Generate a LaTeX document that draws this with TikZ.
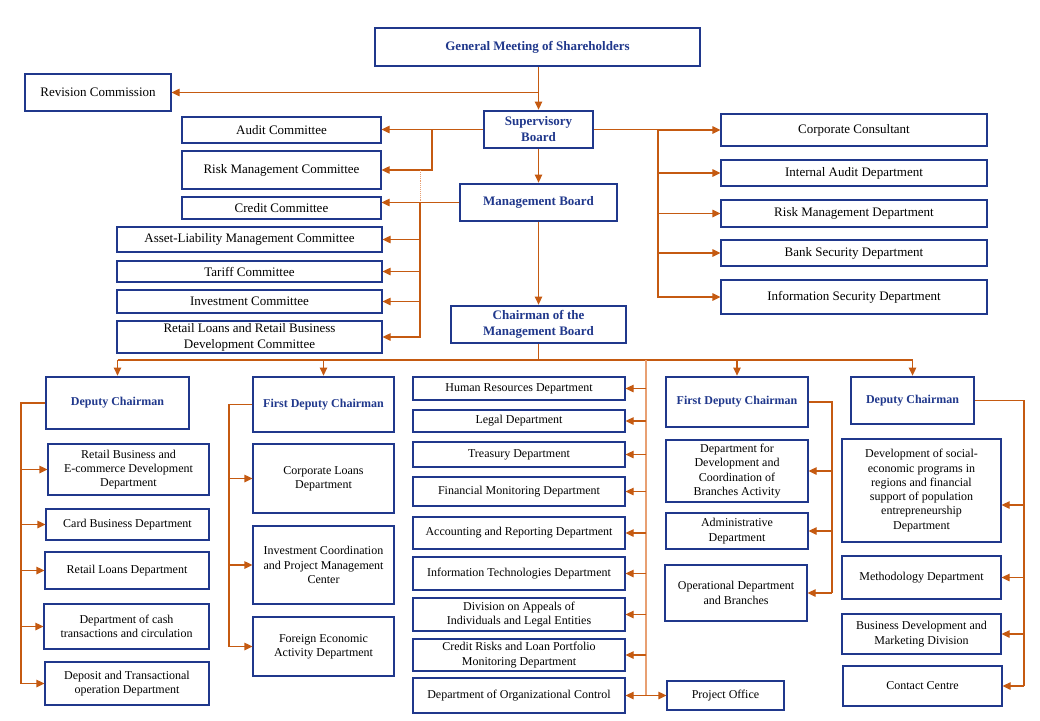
\documentclass[tikz,border=0pt]{standalone}
\usepackage{fontspec}
\setmainfont{Liberation Serif}
\usetikzlibrary{arrows.meta}
\definecolor{navy}{RGB}{32,56,140}
\definecolor{org}{RGB}{197,90,17}
\definecolor{lorg}{RGB}{232,160,115}
\newcommand\topf{\fontsize{13}{16}\selectfont}
\newcommand\botf{\fontsize{12}{14.3}\selectfont}
\newcommand\mkbox[7]{\node[#1, minimum width={#5-#3}, minimum height={#6-#4}] (#2) at ({(#3+#5)/2},{(#4+#6)/2}) {#7};}
\begin{document}
\begin{tikzpicture}[x=1pt,y=-1pt,
  basebox/.style={draw=navy, line width=1.2pt, inner sep=0pt, align=center, text=black},
  tb/.style={basebox, font=\topf},
  bb/.style={basebox, font=\botf},
  th/.style={basebox, line width=2.8pt, text=navy, font=\topf\bfseries},
  bh/.style={basebox, line width=2.8pt, text=navy, font=\botf\bfseries},
  conn/.style={draw=org, line width=1.2pt},
  lconn/.style={draw=lorg, line width=2pt},
  arr/.style={conn, -{Triangle[length=8pt,width=7.5pt]}}]
\useasboundingbox (0,0) rectangle (1040,720);
\fill[white] (0,0) rectangle (1040,720);
% top
\mkbox{th}{gm}{375}{28}{700}{66}{General Meeting of Shareholders}
\mkbox{tb}{rev}{25}{74}{171}{111}{Revision Commission}
\mkbox{th}{sup}{484}{111}{593}{148}{Supervisory\\Board}
\mkbox{tb}{audit}{182}{117}{381}{143}{Audit Committee}
\mkbox{tb}{riskc}{182}{151}{381}{189}{Risk Management Committee}
\mkbox{tb}{credit}{182}{197}{381}{219}{Credit Committee}
\mkbox{th}{mb}{460}{184}{617}{221}{Management Board}
\mkbox{tb}{alm}{117}{227}{382}{252}{Asset-Liability Management Committee}
\mkbox{tb}{tariff}{117}{261}{382}{282}{Tariff Committee}
\mkbox{tb}{invc}{117}{290}{382}{313}{Investment Committee}
\mkbox{tb}{rlc}{117}{321}{382}{353}{Retail Loans and Retail Business\\Development Committee}
\mkbox{th}{chair}{451}{306}{626}{343}{Chairman of the\\Management Board}
\mkbox{tb}{corp}{721}{114}{987}{146}{Corporate Consultant}
\mkbox{tb}{iad}{721}{160}{987}{186}{Internal Audit Department}
\mkbox{tb}{rmd}{721}{200}{987}{227}{Risk Management Department}
\mkbox{tb}{bsd}{721}{240}{987}{266}{Bank Security Department}
\mkbox{tb}{isd}{721}{280}{987}{314}{Information Security Department}
% bottom left
\mkbox{bh}{dc1}{46}{377}{189}{429}{Deputy Chairman}
\mkbox{bb}{rbe}{48}{444}{209}{495}{Retail Business and\\E-commerce Development\\Department}
\mkbox{bb}{card}{46}{509}{209}{540}{Card Business Department}
\mkbox{bb}{rld}{45}{552}{209}{589}{Retail Loans Department}
\mkbox{bb}{cash}{44}{604}{209}{649}{Department of cash\\transactions and circulation}
\mkbox{bb}{dep}{45}{662}{209}{705}{Deposit and Transactional\\operation Department}
\mkbox{bh}{fdc1}{253}{377}{394}{432}{First Deputy Chairman}
\mkbox{bb}{cld}{253}{444}{394}{513}{Corporate Loans\\Department}
\mkbox{bb}{icp}{253}{526}{394}{604}{Investment Coordination\\and Project Management\\Center}
\mkbox{bb}{fea}{253}{617}{394}{676}{Foreign Economic\\Activity Department}
% middle
\mkbox{bb}{hr}{413}{377}{625}{400}{Human Resources Department}
\mkbox{bb}{legal}{413}{410}{625}{432}{Legal Department}
\mkbox{bb}{treas}{413}{442}{625}{467}{Treasury Department}
\mkbox{bb}{fin}{413}{477}{625}{506}{Financial Monitoring Department}
\mkbox{bb}{acc}{413}{517}{625}{549}{Accounting and Reporting Department}
\mkbox{bb}{it}{413}{557}{625}{590}{Information Technologies Department}
\mkbox{bb}{appeals}{413}{598}{625}{631}{Division on Appeals of\\Individuals and Legal Entities}
\mkbox{bb}{crisk}{413}{639}{625}{671}{Credit Risks and Loan Portfolio\\Monitoring Department}
\mkbox{bb}{orgc}{413}{678}{625}{713}{Department of Organizational Control}
\mkbox{bb}{proj}{667}{681}{784}{710}{Project Office}
% bottom right
\mkbox{bh}{fdc2}{666}{377}{808}{427}{First Deputy Chairman}
\mkbox{bb}{devc}{666}{440}{808}{502}{Department for\\Development and\\Coordination of\\Branches Activity}
\mkbox{bb}{admin}{666}{513}{808}{549}{Administrative\\Department}
\mkbox{bb}{oper}{665}{565}{807}{621}{Operational Department\\and Branches}
\mkbox{bh}{dc2}{851}{377}{974}{424}{Deputy Chairman}
\mkbox{bb}{soc}{842}{439}{1001}{542}{Development of social-\\economic programs in\\regions and financial\\support of population\\entrepreneurship\\Department}
\mkbox{bb}{meth}{842}{556}{1001}{599}{Methodology Department}
\mkbox{bb}{bdm}{842}{614}{1001}{654}{Business Development and\\Marketing Division}
\mkbox{bb}{cc}{843}{666}{1002}{706}{Contact Centre}
% coordinates
\coordinate (ja) at (432,0);
\coordinate (jb) at (420,0);
\coordinate (jc) at (658,0);
\coordinate (bus) at (0,360);
\coordinate (jm) at (646,0);
\coordinate (jl) at (21,0);
\coordinate (jl2) at (229,0);
\coordinate (jr) at (832,0);
\coordinate (jr2) at (1024,0);
\coordinate (socin) at (0,505);
% top connectors
\draw[arr] (sup.north |- gm.south) -- (sup.north);
\draw[arr] (sup.north |- rev.east) -- (rev.east);
\draw[arr] (sup.west) -- (sup.west -| audit.east);
\draw[arr] (ja |- sup.west) -- (ja |- riskc.east) -- (riskc.east);
\draw[draw=lorg, line width=0.9pt, densely dotted] (jb |- riskc.east) -- (jb |- mb.west);
\draw[arr] (mb.west) -- (mb.west -| credit.east);
\draw[arr] (jb |- mb.west) -- (jb |- rlc.east) -- (rlc.east);
\draw[arr] (jb |- alm.east) -- (alm.east);
\draw[arr] (jb |- tariff.east) -- (tariff.east);
\draw[arr] (jb |- invc.east) -- (invc.east);
\draw[conn] (sup.east) -- (jc |- sup.east);
\draw[arr] (jc |- sup.east) -- (jc |- isd.west) -- (isd.west);
\draw[arr] (jc |- corp.west) -- (corp.west);
\draw[arr] (jc |- iad.west) -- (iad.west);
\draw[arr] (jc |- rmd.west) -- (rmd.west);
\draw[arr] (jc |- bsd.west) -- (bsd.west);
\draw[arr] (sup.south) -- (sup.south |- mb.north);
\draw[arr] (mb.south) -- (mb.south |- chair.north);
% bus
\draw[conn] (mb.south |- chair.south) -- (mb.south |- bus);
\draw[conn] (dc1.north |- bus) -- (dc2.north |- bus);
\draw[arr] (dc1.north |- bus) -- (dc1.north);
\draw[arr] (fdc1.north |- bus) -- (fdc1.north);
\draw[arr] (fdc2.north |- bus) -- (fdc2.north);
\draw[arr] (dc2.north |- bus) -- (dc2.north);
% middle
\draw[lconn] (jm |- bus) -- (jm |- orgc.east);
\foreach \n in {hr,legal,treas,fin,acc,it,appeals,crisk,orgc}
  \draw[arr] (jm |- \n.east) -- (\n.east);
\draw[arr] (jm |- orgc.east) -- (proj.west |- orgc.east);
% left groups
\draw[conn] (dc1.west) -- (jl |- dc1.west) -- (jl |- dep.west);
\foreach \n in {rbe,card,rld,cash,dep}
  \draw[arr] (jl |- \n.west) -- (\n.west);
\draw[conn] (fdc1.west) -- (jl2 |- fdc1.west) -- (jl2 |- fea.west);
\foreach \n in {cld,icp,fea}
  \draw[arr] (jl2 |- \n.west) -- (\n.west);
% right groups
\draw[conn] (fdc2.east) -- (jr |- fdc2.east) -- (jr |- oper.east);
\foreach \n in {devc,admin,oper}
  \draw[arr] (jr |- \n.east) -- (\n.east);
\draw[conn] (dc2.east) -- (jr2 |- dc2.east) -- (jr2 |- cc.east);
\draw[arr] (jr2 |- socin) -- (soc.east |- socin);
\foreach \n in {meth,bdm,cc}
  \draw[arr] (jr2 |- \n.east) -- (\n.east);
\end{tikzpicture}
\end{document}
